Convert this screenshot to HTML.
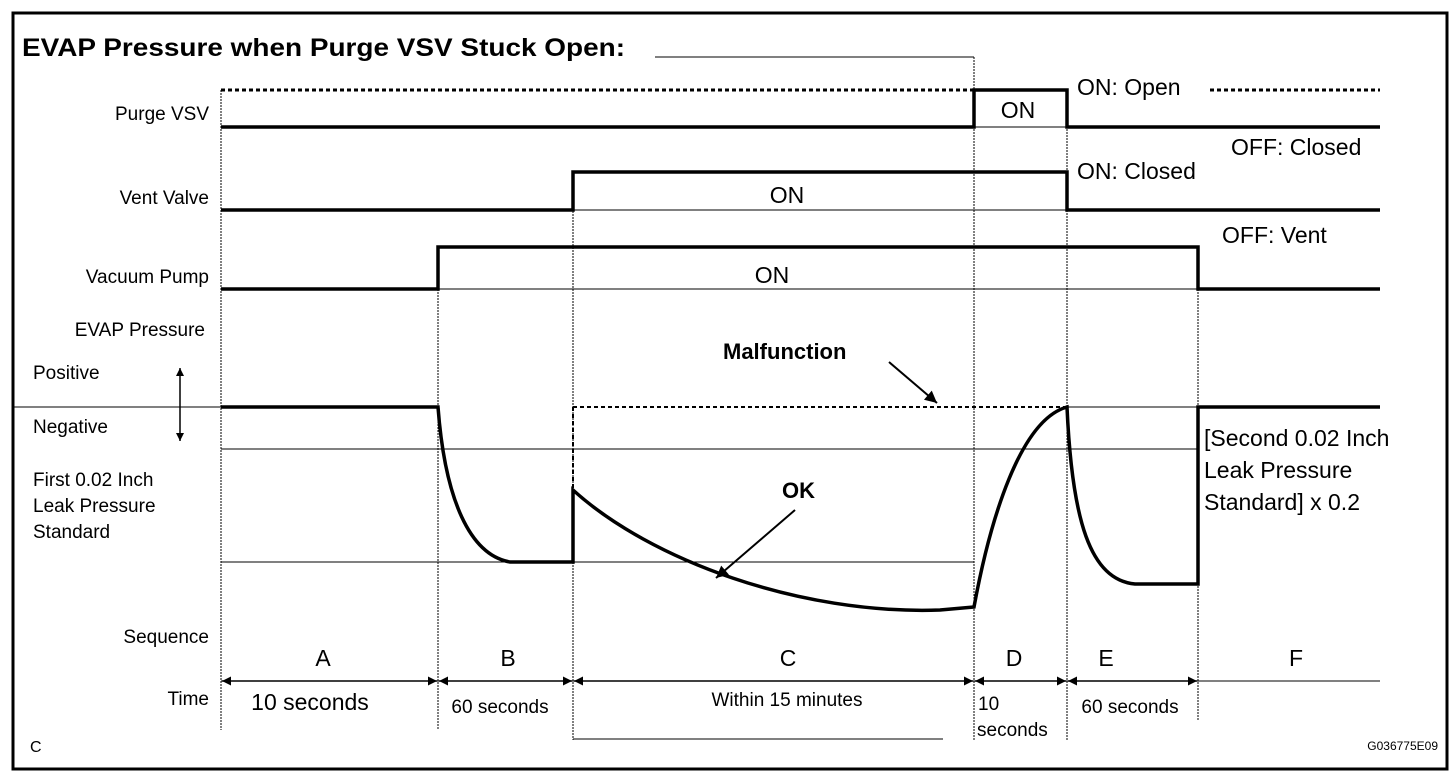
<!DOCTYPE html>
<html><head><meta charset="utf-8"><style>body{margin:0;background:#fff}svg{display:block}text{font-family:"Liberation Sans",Arial,sans-serif;fill:#000}</style></head><body>
<svg width="1456" height="782" viewBox="0 0 1456 782" xmlns="http://www.w3.org/2000/svg">
<defs>
<marker id="b" viewBox="0 0 10 10" refX="10" refY="5" markerWidth="10" markerHeight="8" markerUnits="userSpaceOnUse" orient="auto-start-reverse"><path d="M0,0L10,5L0,10z" fill="#000"/></marker>
<marker id="c" viewBox="0 0 10 10" refX="10" refY="5" markerWidth="18" markerHeight="12" markerUnits="userSpaceOnUse" orient="auto-start-reverse"><path d="M0,0L10,5L0,10z" fill="#000"/></marker>
<marker id="d" viewBox="0 0 10 10" refX="10" refY="5" markerWidth="14" markerHeight="9" markerUnits="userSpaceOnUse" orient="auto-start-reverse"><path d="M0,0L10,5L0,10z" fill="#000"/></marker></defs>
<rect x="13" y="13" width="1434" height="756" fill="none" stroke="#000" stroke-width="3"/>
<text x="22" y="56" font-size="25" font-weight="bold" textLength="603" lengthAdjust="spacingAndGlyphs">EVAP Pressure when Purge VSV Stuck Open:</text>
<line x1="655" y1="57" x2="974" y2="57" stroke="#000" stroke-width="1"/>
<g stroke="#000" stroke-width="1" fill="none" stroke-dasharray="2,1">
<line x1="221" y1="90" x2="221" y2="730"/><line x1="438" y1="247" x2="438" y2="730"/><line x1="573" y1="172" x2="573" y2="740"/><line x1="974" y1="57" x2="974" y2="740"/><line x1="1067" y1="90" x2="1067" y2="740"/><line x1="1198" y1="247" x2="1198" y2="720"/>
</g>
<g stroke="#000" stroke-width="1">
<line x1="974" y1="127" x2="1067" y2="127"/><line x1="573" y1="210" x2="1067" y2="210"/><line x1="438" y1="289" x2="1198" y2="289"/>
<line x1="12" y1="407" x2="221" y2="407"/><line x1="1067" y1="407" x2="1198" y2="407"/>
<line x1="221" y1="449" x2="1198" y2="449"/><line x1="221" y1="562" x2="974" y2="562"/>
<line x1="573" y1="739" x2="943" y2="739"/>
<line x1="221" y1="681" x2="1380" y2="681"/>
</g>
<g stroke="#000" stroke-width="3.5" fill="none">
<polyline points="221,127 974,127 974,90 1067,90 1067,127 1380,127"/>
<polyline points="221,210 573,210 573,172 1067,172 1067,210 1380,210"/>
<polyline points="221,289 438,289 438,247 1198,247 1198,289 1380,289"/>
<path d="M221,407 L438,407 C445,500 470,555 510,562 L573,562 L573,490 C650,560 800,615 940,610 L974,607 C990,520 1020,420 1067,407 L1067,407 C1072,520 1090,580 1135,584 L1198,584 L1198,407 L1380,407"/>
</g>
<g stroke="#000" stroke-width="3" fill="none" stroke-dasharray="4,3">
<line x1="221" y1="90" x2="974" y2="90"/><line x1="1210" y1="90" x2="1380" y2="90"/>
<line x1="573" y1="407" x2="1067" y2="407" stroke-width="2"/><line x1="573" y1="407" x2="573" y2="490" stroke-width="2"/>
</g>
<g stroke="#000" stroke-width="2">
<line x1="889" y1="362" x2="937" y2="403" marker-end="url(#c)"/>
<line x1="795" y1="510" x2="716" y2="578" marker-end="url(#c)"/>
</g>
<g stroke="#000" stroke-width="1.5">
<line x1="180" y1="368" x2="180" y2="441" marker-start="url(#b)" marker-end="url(#b)"/>
<line x1="222" y1="681" x2="437" y2="681" marker-start="url(#d)" marker-end="url(#d)"/>
<line x1="439" y1="681" x2="572" y2="681" marker-start="url(#d)" marker-end="url(#d)"/>
<line x1="574" y1="681" x2="973" y2="681" marker-start="url(#d)" marker-end="url(#d)"/>
<line x1="975" y1="681" x2="1066" y2="681" marker-start="url(#d)" marker-end="url(#d)"/>
<line x1="1068" y1="681" x2="1197" y2="681" marker-start="url(#d)" marker-end="url(#d)"/>
</g>
<g font-size="19" text-anchor="end">
<text x="209" y="120">Purge VSV</text><text x="209" y="204">Vent Valve</text><text x="209" y="283">Vacuum Pump</text><text x="205" y="336">EVAP Pressure</text><text x="209" y="643">Sequence</text><text x="209" y="705">Time</text>
</g>
<g font-size="19">
<text x="33" y="379">Positive</text><text x="33" y="433">Negative</text>
<text x="33" y="486">First 0.02 Inch</text><text x="33" y="512">Leak Pressure</text><text x="33" y="538">Standard</text>
<text x="30" y="752" font-size="16">C</text>
</g>
<g font-size="23">
<text x="1077" y="95">ON: Open</text><text x="1231" y="155">OFF: Closed</text><text x="1077" y="179">ON: Closed</text><text x="1222" y="243">OFF: Vent</text>
<text x="1204" y="446">[Second 0.02 Inch</text><text x="1204" y="478">Leak Pressure</text><text x="1204" y="510">Standard] x 0.2</text>
</g>
<g font-size="23" text-anchor="middle">
<text x="1018" y="118">ON</text><text x="787" y="203">ON</text><text x="772" y="283">ON</text>
<text x="323" y="666">A</text><text x="508" y="666">B</text><text x="788" y="666">C</text><text x="1014" y="666">D</text><text x="1106" y="666">E</text><text x="1296" y="666">F</text>
<text x="310" y="710">10 seconds</text>
</g>
<g font-size="19" text-anchor="middle">
<text x="500" y="713">60 seconds</text><text x="787" y="706">Within 15 minutes</text><text x="1130" y="713">60 seconds</text>
</g>
<text x="978" y="710" font-size="19">10</text><text x="977" y="736" font-size="19">seconds</text>
<text x="723" y="359" font-size="22" font-weight="bold">Malfunction</text>
<text x="782" y="498" font-size="22" font-weight="bold">OK</text>
<text x="1438" y="750" font-size="12" text-anchor="end">G036775E09</text>
</svg>
</body></html>
